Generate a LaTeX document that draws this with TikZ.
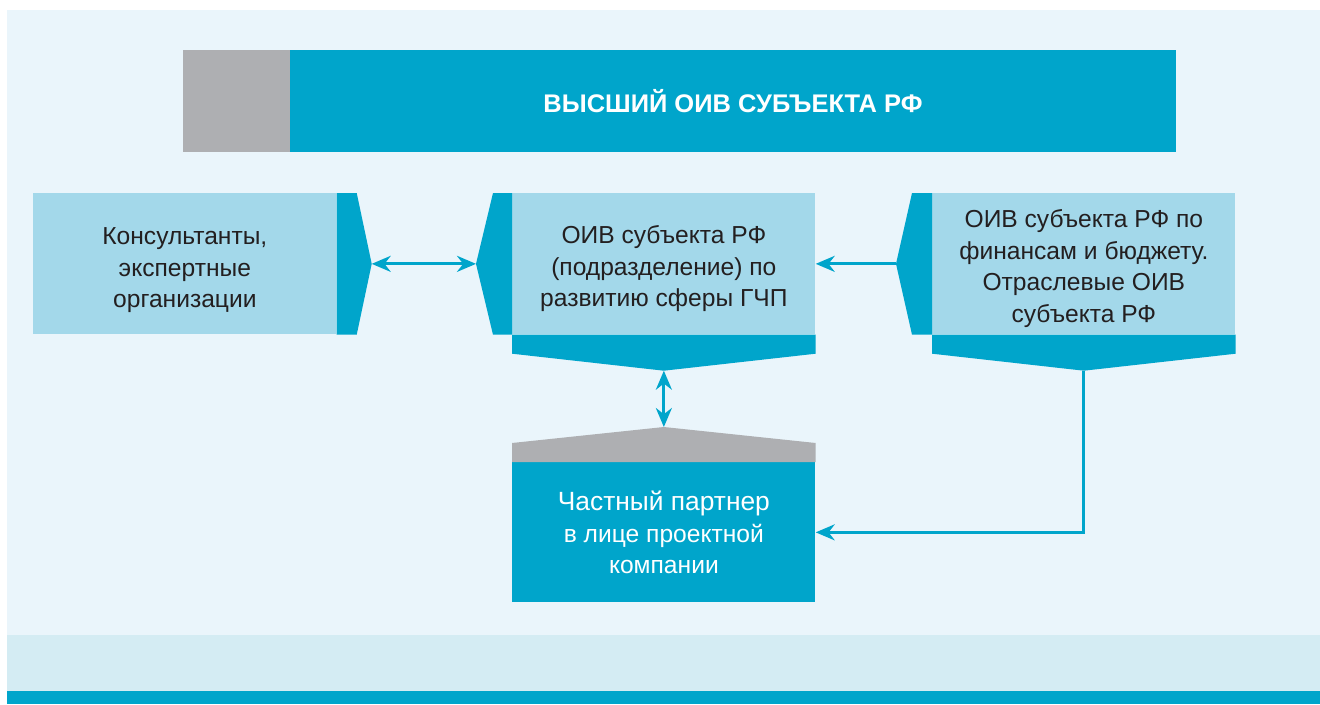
\documentclass[tikz,border=0pt]{standalone}
\usepackage{fontspec}
\setmainfont{Liberation Sans}
\usetikzlibrary{arrows.meta}
\definecolor{oivblue}{RGB}{0,165,203}
\definecolor{boxblue}{RGB}{163,216,234}
\definecolor{bgpale}{RGB}{234,245,251}
\definecolor{bandpale}{RGB}{212,236,243}
\definecolor{tabgray}{RGB}{174,175,178}
\definecolor{inktext}{RGB}{35,31,32}
\tikzset{
	box/.style={fill=boxblue, inner sep=0pt, minimum width=60.6mm, minimum height=28.2mm,
		anchor=north west, align=center, text=inktext, font=\fontsize{14}{18}\selectfont},
	partnerbox/.style={fill=oivblue, inner sep=0pt, minimum width=60.6mm, minimum height=28mm,
		anchor=north west, align=center, text=white, font=\fontsize{14}{18}\selectfont},
	headbox/.style={fill=oivblue, inner sep=0pt, minimum width=177.2mm, minimum height=20.4mm,
		text=white, font=\fontsize{14.5}{17}\selectfont\bfseries},
	link/.style={draw=oivblue, line width=0.55mm}
}
\begin{document}
\begin{tikzpicture}[>={Stealth[length=3.8mm,width=3.2mm]}, x=0.2mm, y=-0.2mm]
			\useasboundingbox (0,0) rectangle (1320,704);
			\fill[bgpale] (7,10) rectangle (1320,635);
			\fill[bandpale] (7,635) rectangle (1320,691);
			\fill[oivblue] (7,691) rectangle (1320,704);
			
			\node[headbox] (vysshiy) at (733,101) {ВЫСШИЙ ОИВ СУБЪЕКТА РФ};
			\fill[tabgray] (183,50) rectangle (vysshiy.south west);
			
			\node[box] (konsult) at (33,193) {\rule{0pt}{6mm}Консультанты,\\экспертные\\организации};
			\coordinate (konsult-tip) at ([xshift=7mm]konsult.east);
			\fill[oivblue] (konsult.north east) -- ([xshift=4mm]konsult.north east) -- (konsult-tip)
				-- ([xshift=4mm]konsult.south east) -- (konsult.south east) -- cycle;
			
			\node[box] (razvitie) at (512,193) {\rule{0pt}{5.5mm}ОИВ субъекта РФ\\(подразделение) по\\развитию сферы ГЧП};
			\coordinate (razvitie-tip) at ([xshift=-7.2mm]razvitie.west);
			\coordinate (razvitie-low) at ([yshift=-7.2mm]razvitie.south);
			\fill[oivblue] (razvitie.north west) -- ([xshift=-3.8mm]razvitie.north west) -- (razvitie-tip)
				-- ([xshift=-3.8mm]razvitie.south west) -- (razvitie.south west) -- cycle;
			\fill[oivblue] (razvitie.south west) -- ([yshift=-3.8mm]razvitie.south west) -- (razvitie-low)
				-- ([yshift=-3.8mm]razvitie.south east) -- (razvitie.south east) -- cycle;
			
			\node[box] (finansy) at (932,193) {\rule{0pt}{5.5mm}ОИВ субъекта РФ по\\финансам и бюджету.\\Отраслевые ОИВ\\субъекта РФ};
			\coordinate (finansy-tip) at ([xshift=-7.2mm]finansy.west);
			\coordinate (finansy-low) at ([yshift=-7.2mm]finansy.south);
			\fill[oivblue] (finansy.north west) -- ([xshift=-4mm]finansy.north west) -- (finansy-tip)
				-- ([xshift=-4mm]finansy.south west) -- (finansy.south west) -- cycle;
			\fill[oivblue] (finansy.south west) -- ([yshift=-3.8mm]finansy.south west) -- (finansy-low)
				-- ([yshift=-3.8mm]finansy.south east) -- (finansy.south east) -- cycle;
			
			\node[partnerbox] (partner) at (512,462) {{\fontsize{15}{18}\selectfont Частный партнер}\\в лице проектной\\компании};
			\coordinate (partner-top) at ([yshift=7mm]partner.north);
			\fill[tabgray] (partner.north west) -- ([yshift=3.8mm]partner.north west) -- (partner-top)
				-- ([yshift=3.8mm]partner.north east) -- (partner.north east) -- cycle;
			
			\draw[link, <->] (konsult-tip) -- (razvitie-tip);
			\draw[link, ->] (finansy-tip) -- (razvitie.east);
			\draw[link, <->] (razvitie-low) -- (partner-top);
			\draw[link, ->] (finansy-low) |- (partner.east);
		\end{tikzpicture}
\end{document}
